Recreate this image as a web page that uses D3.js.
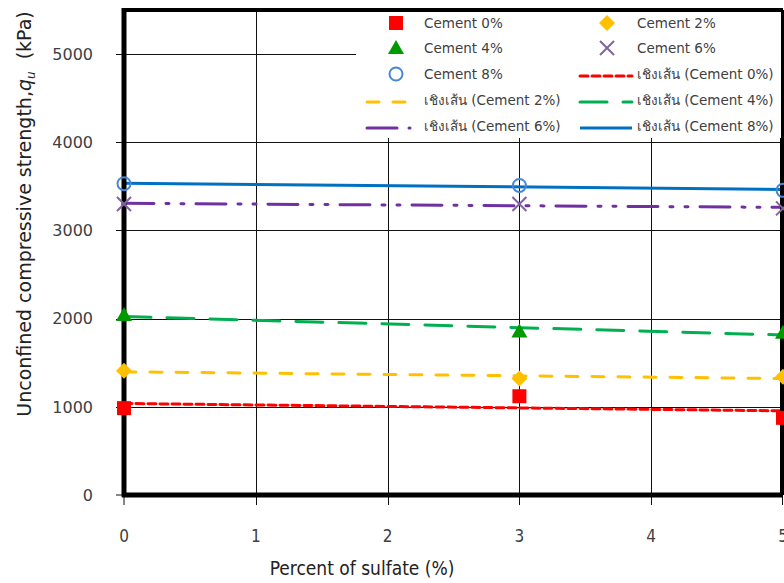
<!DOCTYPE html>
<html>
<head>
<meta charset="utf-8">
<script src="https://cdn.jsdelivr.net/npm/d3@7"></script>
<style>
  body { margin: 0; background: #fff; }
  svg { display: block; }
  .tick-y { font-family: "DejaVu Sans", sans-serif; font-size: 16px; fill: #404040; }
  .tick-x { font-family: "DejaVu Sans", sans-serif; font-stretch: condensed; font-size: 17px; fill: #404040; }
  .legend text { font-family: "DejaVu Sans", sans-serif; font-size: 13.5px; fill: #404040; }
</style>
</head>
<body>
<div id="chart"></div>
<script>
// sulfate percentages on the x axis
const sulfate = [0, 3, 5];
// qu (kPa) for each cement content
const cement0 = [985, 1120, 875];
const cement2 = [1410, 1320, 1340];
const cement4 = [2040, 1855, 1840];
const cement6 = [3300, 3300, 3250];
const cement8 = [3530, 3510, 3455];
const xTicks = [0, 1, 2, 3, 4, 5];
const yTicks = [0, 1000, 2000, 3000, 4000, 5000];

const series = [
    { name: "Cement 0%", values: cement0, color: "#ff0000", marker: "square", lineColor: "#ff0000", dash: "8,4" },
    { name: "Cement 2%", values: cement2, color: "#ffc000", marker: "diamond", lineColor: "#ffc000", dash: "12,14" },
    { name: "Cement 4%", values: cement4, color: "#009900", marker: "triangle", lineColor: "#00b050", dash: "27,16" },
    { name: "Cement 6%", values: cement6, color: "#8064a2", marker: "cross", lineColor: "#7030a0", dash: "30,12,3,12,3,12" },
    { name: "Cement 8%", values: cement8, color: "#4a86d8", marker: "circle", lineColor: "#0070c0", dash: null }
];

// least squares trendline (the "เชิงเส้น" lines in the legend)
function linearFit(xs, ys) {
    const mx = d3.mean(xs), my = d3.mean(ys);
    let num = 0, den = 0;
    xs.forEach((x, i) => { num += (x - mx) * (ys[i] - my); den += (x - mx) * (x - mx); });
    const slope = num / den;
    return { slope: slope, intercept: my - slope * mx };
}

const W = 784, H = 583;
const margin = { top: 10, right: 1, bottom: 88, left: 124 };
const width = W - margin.left - margin.right;
const height = H - margin.top - margin.bottom;

const svg = d3.select("#chart").append("svg")
    .attr("width", W)
    .attr("height", H);

const g = svg.append("g")
    .attr("transform", `translate(${margin.left},${margin.top})`);

const x = d3.scaleLinear().domain([0, 5]).range([0, width]);
const y = d3.scaleLinear().domain([0, 5500]).range([height, 0]);

// grid
g.selectAll(".hgrid")
    .data(yTicks.filter(d => d > 0))
    .enter().append("line")
    .attr("x1", -8).attr("x2", width)
    .attr("y1", d => Math.round(y(d)) + 0.5).attr("y2", d => Math.round(y(d)) + 0.5)
    .style("stroke", "#111").style("stroke-width", 1);

g.selectAll(".vgrid")
    .data(xTicks.filter(d => d > 0 && d < 5))
    .enter().append("line")
    .attr("x1", d => Math.round(x(d)) + 0.5).attr("x2", d => Math.round(x(d)) + 0.5)
    .attr("y1", 0).attr("y2", height + 10)
    .style("stroke", "#111").style("stroke-width", 1);

// tick marks at ends
g.append("line").attr("x1", -8).attr("x2", 0).attr("y1", y(0)).attr("y2", y(0))
    .style("stroke", "#111");
g.append("line").attr("x1", x(0)).attr("x2", x(0)).attr("y1", height).attr("y2", height + 10)
    .style("stroke", "#111");
g.append("line").attr("x1", x(5) - 0.5).attr("x2", x(5) - 0.5).attr("y1", height).attr("y2", height + 10)
    .style("stroke", "#111");

// tick labels
g.selectAll(".tick-y")
    .data(yTicks)
    .enter().append("text")
    .attr("class", "tick-y")
    .attr("x", -31)
    .attr("y", d => y(d))
    .attr("dy", "0.36em")
    .style("text-anchor", "end")
    .text(d => d);

g.selectAll(".tick-x")
    .data(xTicks)
    .enter().append("text")
    .attr("class", "tick-x")
    .attr("x", d => x(d))
    .attr("y", height + 47)
    .style("text-anchor", "middle")
    .text(d => d);

// axis titles
svg.append("text")
    .attr("x", 362)
    .attr("y", 575)
    .style("font-family", "DejaVu Sans, sans-serif")
    .style("font-stretch", "condensed")
    .style("font-size", "19px")
    .style("fill", "#222")
    .style("text-anchor", "middle")
    .text("Percent of sulfate (%)");

const yTitle = svg.append("text")
    .attr("transform", `translate(31, ${(18 + 410) / 2}) rotate(-90)`)
    .style("font-family", "DejaVu Sans, sans-serif")
    .style("font-size", "19px")
    .style("fill", "#222")
    .style("text-anchor", "middle");
yTitle.append("tspan").text("Unconfined compressive strength,");
yTitle.append("tspan").style("font-style", "italic").text("q");
yTitle.append("tspan").style("font-style", "italic").style("font-size", "12px").attr("dy", 4).text("u");
yTitle.append("tspan").attr("dy", -4).text("\u00a0\u00a0(kPa)");

// trendlines
const trend = g.append("g");
series.forEach(s => {
    const fit = linearFit(sulfate, s.values);
    const ends = [0, 5].map(v => [x(v), y(fit.intercept + fit.slope * v)]);
    trend.append("path")
        .attr("d", d3.line()(ends))
        .style("fill", "none")
        .style("stroke", s.lineColor)
        .style("stroke-width", 3)
        .style("stroke-linecap", s.dash ? "round" : "butt")
        .style("stroke-dasharray", s.dash);
});

// markers
function drawMarker(sel, type, color) {
    if (type === "square") {
        sel.append("rect").attr("x", -7).attr("y", -7).attr("width", 14).attr("height", 14).style("fill", color);
    } else if (type === "diamond") {
        sel.append("path").attr("d", "M0,-8L8,0L0,8L-8,0Z").style("fill", color);
    } else if (type === "triangle") {
        sel.append("path").attr("d", "M0,-8L8,6L-8,6Z").style("fill", color);
    } else if (type === "cross") {
        sel.append("path").attr("d", "M-7,-7L7,7M-7,7L7,-7").style("stroke", color).style("stroke-width", 2).style("fill", "none");
    } else if (type === "circle") {
        sel.append("circle").attr("r", 6.5).style("fill", "none").style("stroke", color).style("stroke-width", 2);
    }
}

// frame (drawn below markers)
const frame = g.append("g");
frame.append("line").attr("x1", 0).attr("x2", width).attr("y1", 0).attr("y2", 0)
    .style("stroke", "#000").style("stroke-width", 4);
frame.append("line").attr("x1", width - 1).attr("x2", width - 1).attr("y1", 0).attr("y2", height)
    .style("stroke", "#000").style("stroke-width", 4);
frame.append("line").attr("x1", -2).attr("x2", width).attr("y1", height).attr("y2", height)
    .style("stroke", "#000").style("stroke-width", 5);
frame.append("line").attr("x1", 0).attr("x2", 0).attr("y1", -2).attr("y2", height + 2)
    .style("stroke", "#000").style("stroke-width", 5);

const marks = g.append("g");
series.forEach(s => {
    s.values.forEach((v, i) => {
        const m = marks.append("g").attr("transform", `translate(${x(sulfate[i])},${y(v)})`);
        drawMarker(m, s.marker, s.color);
    });
});

// legend
const legend = svg.append("g").attr("class", "legend");
legend.append("rect")
    .attr("x", 356).attr("y", 12).attr("width", 425).attr("height", 126)
    .style("fill", "#fff");

const rows = [23, 48, 74, 100, 126];
const cols = [{ mx: 396, l1: 367, l2: 410, tx: 424 }, { mx: 607, l1: 580, l2: 632, tx: 637 }];
const entries = [];
series.forEach(s => entries.push({ kind: "marker", s: s, label: s.name }));
series.forEach(s => entries.push({ kind: "line", s: s, label: "เชิงเส้น (" + s.name + ")" }));

entries.forEach((e, i) => {
    const c = cols[i % 2];
    const ry = rows[Math.floor(i / 2)];
    const item = legend.append("g");
    if (e.kind === "marker") {
        drawMarker(item.append("g").attr("transform", `translate(${c.mx},${ry})`), e.s.marker, e.s.color);
    } else {
        item.append("line")
            .attr("x1", c.l1).attr("x2", c.l2).attr("y1", ry + 2).attr("y2", ry + 2)
            .style("stroke", e.s.lineColor)
            .style("stroke-width", 3)
            .style("stroke-linecap", e.s.dash ? "round" : "butt")
            .style("stroke-dasharray", e.s.dash);
    }
    item.append("text").attr("x", c.tx).attr("y", ry).attr("dy", "0.35em").text(e.label);
});
</script>
</body>
</html>
